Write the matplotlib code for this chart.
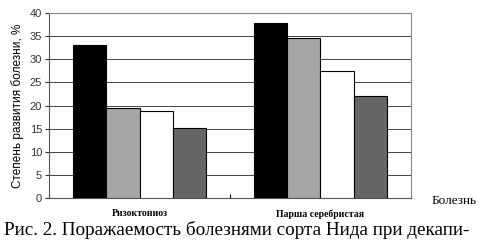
import matplotlib.pyplot as plt
import numpy as np

categories = ['Ризоктониоз', 'Парша серебристая']
series1 = [33.0, 37.8]
series2 = [19.5, 34.7]
series3 = [18.8, 27.5]
series4 = [15.2, 22.0]
colors = ['black', '#a6a6a6', 'white', '#666666']

fig = plt.figure(figsize=(4.79, 2.44), dpi=100)
ax = fig.add_axes([49/479, 1 - 198/244, 362/479, 185/244])

x = np.arange(len(categories))
w = 0.183
for i, vals in enumerate([series1, series2, series3, series4]):
    ax.bar(x + (i - 1.5) * w, vals, w, color=colors[i], edgecolor='black',
           linewidth=0.8, zorder=3)

ax.set_xlim(-0.5, 1.5)
ax.set_ylim(0, 40)
ax.set_yticks(range(0, 41, 5))
ax.yaxis.grid(True, color='#444444', linewidth=0.7, zorder=0)
ax.set_xticks([-0.5, 0.5, 1.5], minor=False)
ax.set_xticklabels([])
ax.set_xticks(x, minor=True)
ax.set_xticklabels(categories, minor=True, fontfamily='Liberation Serif',
                   fontsize=7, fontweight='bold')
ax.tick_params(axis='x', which='minor', length=0, pad=8)
ax.tick_params(axis='x', which='major', length=3, direction='in')
ax.tick_params(axis='y', labelsize=8, length=3, pad=2, colors='#333333')
for lab in ax.get_yticklabels():
    lab.set_fontfamily('Liberation Sans')
for s in ['top', 'right']:
    ax.spines[s].set_color('#888888')
ax.spines['left'].set_color('#555555')
ax.spines['bottom'].set_color('#555555')
ax.set_ylabel('Степень развития болезни, %', fontsize=8.5,
              fontfamily='Liberation Sans', labelpad=4)

fig.text(432/479, 1 - 201/244, 'Болезнь', fontfamily='Liberation Serif',
         fontsize=9.5, va='center')
fig.text(4/479, 1 - 230/244, 'Рис. 2. Поражаемость болезнями сорта Нида при декапи-',
         fontfamily='Liberation Serif', fontsize=13.8, va='center')

fig.savefig('out.png', dpi=100)
